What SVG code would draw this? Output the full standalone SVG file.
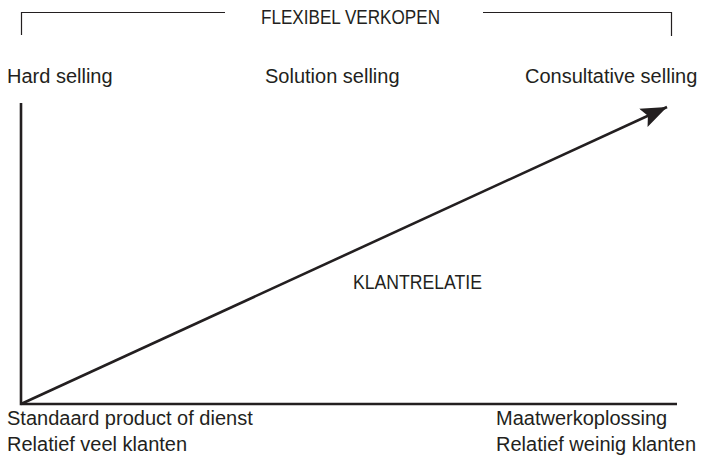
<svg xmlns="http://www.w3.org/2000/svg" width="701" height="461" viewBox="0 0 701 461">
<style>
text{font-family:"Liberation Sans",Arial,sans-serif;font-size:20px;fill:#231f20}
.thin{stroke:#231f20;stroke-width:1.2;fill:none}
.axis{stroke:#231f20;stroke-width:2.6;fill:none}
</style>
<defs>
<marker id="ah" markerUnits="userSpaceOnUse" markerWidth="30" markerHeight="24" refX="26" refY="10" orient="auto" viewBox="0 0 30 20">
<path d="M0,0 L26,10 L0,20 L5,10 Z" fill="#231f20"/>
</marker>
</defs>
<g id="bracket">
<path class="thin" d="M21.5,35 V12.5 H225"/>
<path class="thin" d="M483,12.5 H671.5 V36"/>
<text x="261" y="23.5" textLength="179" lengthAdjust="spacingAndGlyphs">FLEXIBEL VERKOPEN</text>
</g>
<g id="labels-top">
<text x="7" y="83">Hard selling</text>
<text x="265" y="83">Solution selling</text>
<text x="525" y="83">Consultative selling</text>
</g>
<g id="connectors">
<path class="axis" d="M21,103 V404 H677"/>
<path class="axis" d="M21,404 L667,107" marker-end="url(#ah)"/>
</g>
<g id="klantrelatie"><text x="353" y="288.5" textLength="129" lengthAdjust="spacingAndGlyphs">KLANTRELATIE</text></g>
<g id="labels-bottom">
<text x="7" y="425">Standaard product of dienst</text>
<text x="7" y="451">Relatief veel klanten</text>
<text x="496" y="425">Maatwerkoplossing</text>
<text x="496" y="451">Relatief weinig klanten</text>
</g>
</svg>
